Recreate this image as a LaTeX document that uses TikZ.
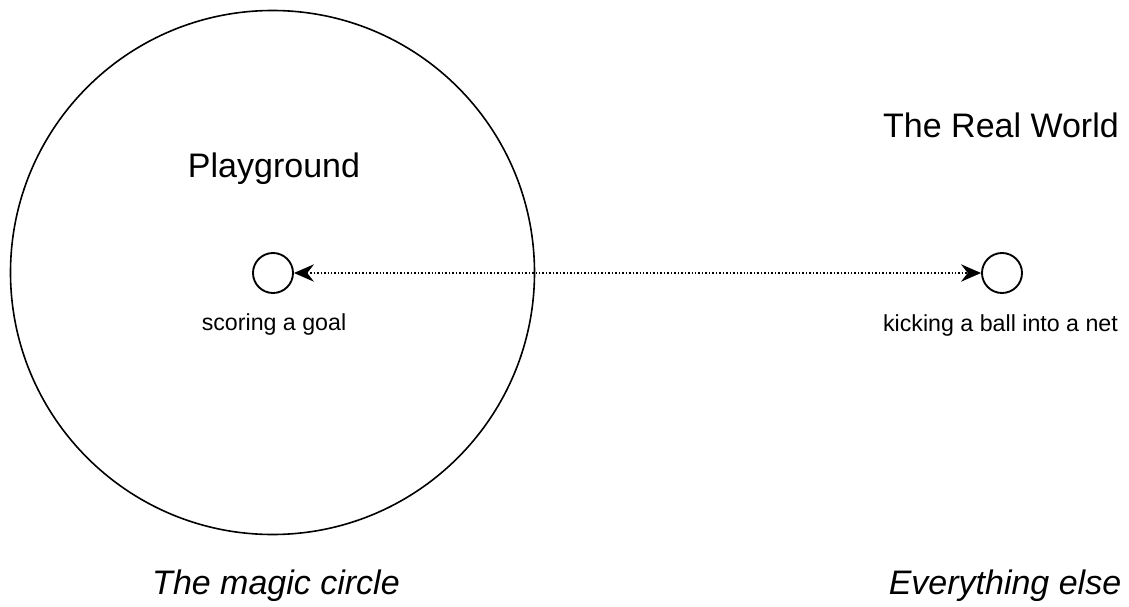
\documentclass[tikz,border=0pt]{standalone}
\usepackage{fontspec}
\setmainfont{Liberation Sans}
\usetikzlibrary{arrows.meta}
\tikzset{
  spot/.style={circle, draw, line width=1.4pt, inner sep=0pt, minimum size=30pt},
  bigtext/.style={anchor=base, font=\fontsize{25.5}{30}\selectfont},
  smalltext/.style={anchor=base, font=\fontsize{17.4}{21}\selectfont},
  linktip/.tip={Stealth[length=15pt,width=13pt,inset=5pt]},
}
\begin{document}
\begin{tikzpicture}[x=0.75pt, y=-0.75pt]
    \useasboundingbox (0,0) rectangle (1129,607);
    % El circulo magico
    \node[circle, draw, line width=1.2pt, inner sep=0pt, minimum size=393pt] (magic) at (272.5,272.5) {};
    \node[bigtext] (playground) at (274,177) {Playground};
    \node[bigtext] (realworld) at (1001,137) {The Real World};
    % Los dos sucesos
    \node[spot] (goal) at (273,273) {};
    \node[spot] (kick) at (1002,273) {};
    \node[smalltext] (goallabel) at (274,330) {scoring a goal};
    \node[smalltext] (kicklabel) at (1000.5,331) {kicking a ball into a net};
    % Relacion entre ambos
    \draw[line width=1.1pt, dash pattern=on 1.1pt off 1.5pt, linktip-linktip]
        (goal) -- (kick);
    % Rotulos inferiores
    \node[bigtext, font=\fontsize{25.5}{30}\selectfont\itshape] (magiclabel) at (276,594) {The magic circle};
    \node[bigtext, font=\fontsize{25.5}{30}\selectfont\itshape] (elselabel) at (1005,594) {Everything else};
\end{tikzpicture}
\end{document}
